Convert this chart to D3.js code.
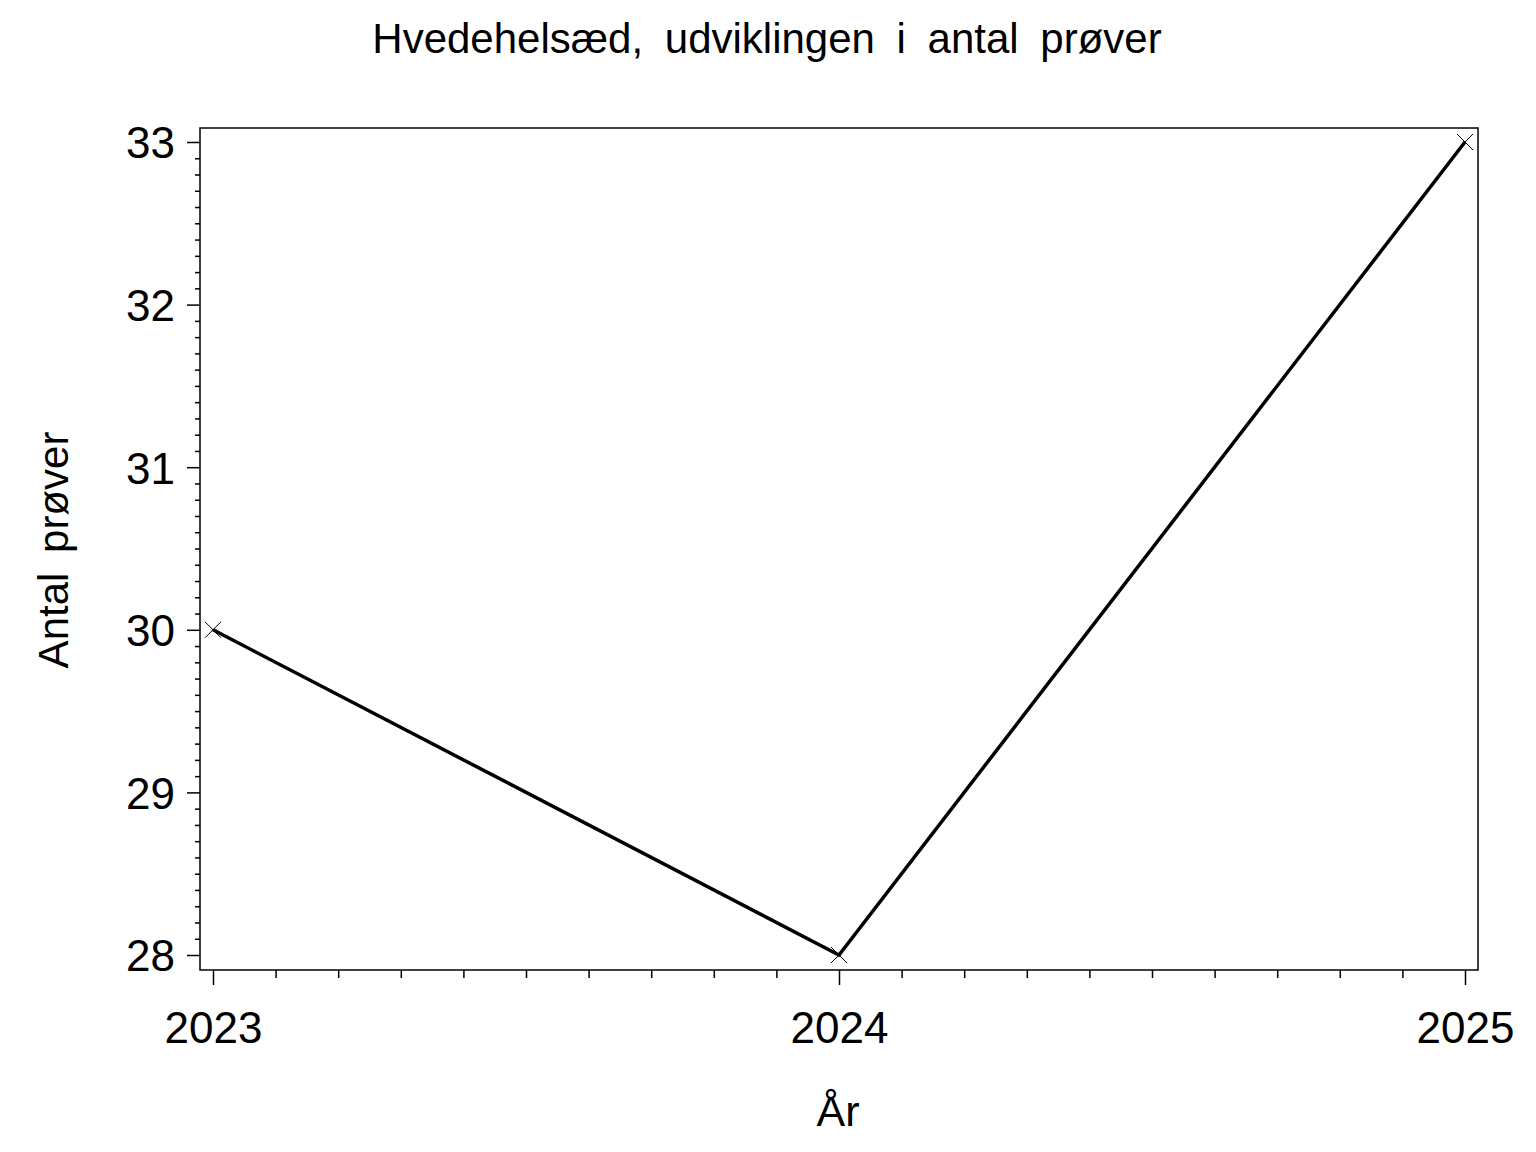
<!DOCTYPE html>
<html>
<head>
<meta charset="utf-8">
<script src="https://cdn.jsdelivr.net/npm/d3@7"></script>
<style>
  body { margin: 0; background: #fff; }
  svg { display: block; }
  text { font-family: "Liberation Sans", Arial, sans-serif; fill: #000; }
</style>
</head>
<body>
<svg width="1536" height="1152"></svg>
<script>
const years = [2023, 2024, 2025];
const samples = [30, 28, 33];
const yTicks = [28, 29, 30, 31, 32, 33];
const xTicks = [2023, 2024, 2025];

const title = "Hvedehelsæd, udviklingen i antal prøver";
const xLabel = "År";
const yLabel = "Antal prøver";

const svg = d3.select("svg");

const frame = { left: 200, right: 1478, top: 128, bottom: 970 };

const x = d3.scaleLinear().domain([2023, 2025]).range([213, 1465]);
const y = d3.scaleLinear().domain([28, 33]).range([955, 142]);

// frame
svg.append("rect")
    .attr("x", frame.left)
    .attr("y", frame.top)
    .attr("width", frame.right - frame.left)
    .attr("height", frame.bottom - frame.top)
    .attr("fill", "none")
    .attr("stroke", "#000")
    .attr("stroke-width", 1.5);

// y axis: minor then major
const yMinor = d3.range(28, 33.001, 0.1).filter(v => Math.abs(v - Math.round(v)) > 0.01);
svg.append("g")
    .attr("transform", `translate(${frame.left},0)`)
    .call(d3.axisLeft(y).tickValues(yMinor).tickSize(5).tickFormat(""))
    .call(g => g.select(".domain").remove())
    .call(g => g.selectAll("line").attr("stroke-width", 1.5));

svg.append("g")
    .attr("transform", `translate(${frame.left},0)`)
    .call(d3.axisLeft(y).tickValues(yTicks).tickSize(13).tickPadding(12).tickFormat(d3.format("d")))
    .call(g => g.select(".domain").remove())
    .call(g => g.selectAll("line").attr("stroke-width", 1.5))
    .call(g => g.selectAll("text").attr("font-size", 44).attr("dy", "0.36em"));

// x axis
const xMinor = d3.range(2023, 2025.001, 0.1).filter(v => Math.abs(v - Math.round(v)) > 0.01);
svg.append("g")
    .attr("transform", `translate(0,${frame.bottom})`)
    .call(d3.axisBottom(x).tickValues(xMinor).tickSize(8).tickFormat(""))
    .call(g => g.select(".domain").remove())
    .call(g => g.selectAll("line").attr("stroke-width", 1.5));

svg.append("g")
    .attr("transform", `translate(0,${frame.bottom})`)
    .call(d3.axisBottom(x).tickValues(xTicks).tickSize(15).tickPadding(27).tickFormat(d3.format("d")))
    .call(g => g.select(".domain").remove())
    .call(g => g.selectAll("line").attr("stroke-width", 1.5))
    .call(g => g.selectAll("text").attr("font-size", 44));

// series line
const data = years.map((yr, i) => ({ yr, v: samples[i] }));

svg.append("path")
    .datum(data)
    .attr("fill", "none")
    .attr("stroke", "#000")
    .attr("stroke-width", 3.5)
    .attr("d", d3.line().x(d => x(d.yr)).y(d => y(d.v)));

// x markers
const m = 8;
svg.append("g")
    .selectAll("path")
    .data(data)
    .enter()
    .append("path")
    .attr("fill", "none")
    .attr("stroke", "#000")
    .attr("stroke-width", 1)
    .attr("d", d => {
        const cx = x(d.yr), cy = y(d.v);
        return `M${cx - m},${cy - m}L${cx + m},${cy + m}M${cx - m},${cy + m}L${cx + m},${cy - m}`;
    });

// titles
svg.append("text")
    .attr("x", 767)
    .attr("y", 53)
    .attr("text-anchor", "middle")
    .attr("font-size", 42)
    .attr("word-spacing", 10)
    .text(title);

svg.append("text")
    .attr("x", 838)
    .attr("y", 1126)
    .attr("text-anchor", "middle")
    .attr("font-size", 43)
    .text(xLabel);

svg.append("text")
    .attr("transform", "translate(68,550) rotate(-90)")
    .attr("text-anchor", "middle")
    .attr("font-size", 42)
    .attr("word-spacing", 8)
    .text(yLabel);
</script>
</body>
</html>
